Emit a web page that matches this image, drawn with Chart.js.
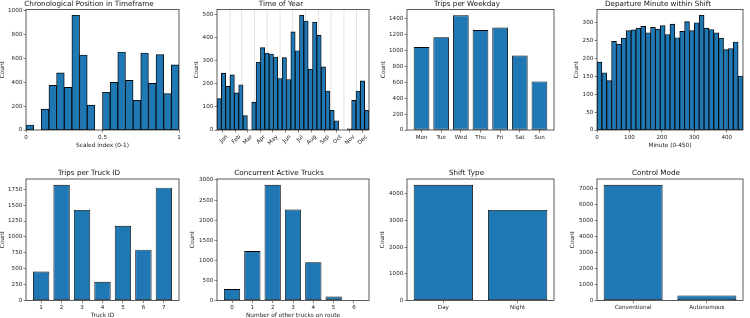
<!DOCTYPE html>
<html><head><meta charset="utf-8">
<script src="https://cdn.jsdelivr.net/npm/chart.js@4.4.0/dist/chart.umd.min.js"></script>
<style>
html,body{margin:0;padding:0;background:#fff;width:750px;height:318px;overflow:hidden;position:relative}
canvas{position:absolute}
</style></head><body>
<canvas id="c1"></canvas><canvas id="c2"></canvas><canvas id="c3"></canvas><canvas id="c4"></canvas>
<canvas id="c5"></canvas><canvas id="c6"></canvas><canvas id="c7"></canvas><canvas id="c8"></canvas>
<script>
// ---------- data ----------
const chronoRange = [0, 1];
const chronoCounts = [42, 0, 175, 374, 479, 357, 962, 629, 208, 0, 316, 399, 654, 416, 249, 645, 391, 632, 305, 546];
const chronoTicks = [0, 0.5, 1];
const chronoTickLabels = ['0', '0.5', '1'];

const yearRange = [1, 365];
const yearCounts = [135, 245, 188, 238, 160, 195, 62, 0, 120, 292, 355, 332, 328, 315, 222, 312, 218, 423, 342, 495, 470, 262, 465, 408, 272, 168, 85, 40, 0, 0, 5, 128, 168, 212, 85];
const monthNames = ['Jan','Feb','Mar','Apr','May','Jun','Jul','Aug','Sep','Oct','Nov','Dec'];
const monthMidDays = [15, 46, 74, 105, 135, 166, 196, 227, 258, 288, 319, 349];
const monthStartDays = [32, 60, 91, 121, 152, 182, 213, 244, 274, 305, 335];

const weekdays = ['Mon','Tue','Wed','Thu','Fri','Sat','Sun'];
const weekdayCounts = [1040, 1165, 1440, 1255, 1285, 935, 610];

const minuteRange = [0, 450];
const minuteCounts = [190, 160, 138, 248, 240, 257, 278, 280, 285, 290, 272, 287, 282, 292, 267, 296, 258, 276, 303, 278, 300, 321, 285, 281, 272, 257, 225, 228, 246, 151];
const minuteTicks = [0, 100, 200, 300, 400];

const truckIds = [1, 2, 3, 4, 5, 6, 7];
const truckCounts = [455, 1820, 1425, 295, 1175, 800, 1775];

const concurrentLevels = [0, 1, 2, 3, 4, 5, 6];
const concurrentCounts = [285, 1230, 2880, 2265, 955, 100, 10];

const shiftTypes = ['Day', 'Night'];
const shiftCounts = [4330, 3390];

const controlModes = ['Conventional', 'Autonomous'];
const controlCounts = [7250, 315];

// ---------- style ----------
const FONT = "'DejaVu Sans', sans-serif";
const TICK_SIZE = 5.6, LABEL_SIZE = 5.8, TITLE_SIZE = 7.2;
const LABEL_LH = LABEL_SIZE * 1.2, TITLE_LH = TITLE_SIZE * 1.2;
const BAR_COLOR = '#1f77b4', EDGE = '#050505';

const framePlugin = {
  id: 'frame',
  afterDatasetsDraw(chart) {
    const {ctx, chartArea: a} = chart;
    ctx.save(); ctx.strokeStyle = '#333'; ctx.lineWidth = 0.8;
    ctx.strokeRect(a.left, a.top, a.right - a.left, a.bottom - a.top);
    ctx.restore();
  }
};
const monthGridPlugin = {
  id: 'monthGrid',
  beforeDatasetsDraw(chart, args, opts) {
    if (!opts || !opts.days) return;
    const x = chart.scales.x, a = chart.chartArea, ctx = chart.ctx;
    ctx.save(); ctx.strokeStyle = 'rgba(0,0,0,0.14)'; ctx.lineWidth = 0.8;
    opts.days.forEach(d => {
      const px = x.getPixelForValue(d);
      ctx.beginPath(); ctx.moveTo(px, a.top); ctx.lineTo(px, a.bottom); ctx.stroke();
    });
    ctx.restore();
  }
};

function histPoints(range, counts) {
  const w = (range[1] - range[0]) / counts.length;
  return counts.map((c, i) => ({x: range[0] + (i + 0.5) * w, y: c}));
}
function barLimits(positions) {
  const span = positions[positions.length - 1] - positions[0] + 0.8;
  return [positions[0] - 0.4 - 0.05 * span, positions[positions.length - 1] + 0.4 + 0.05 * span];
}

function makeChart(id, geo, spec) {
  const cv = document.getElementById(id);
  const cl = Math.round(geo.countX - LABEL_LH / 2);
  const ct = geo.ct, ch = geo.ch;
  const cw = Math.round(geo.pr + 8 - cl);
  cv.width = cw; cv.height = ch;
  cv.style.left = cl + 'px'; cv.style.top = ct + 'px';
  cv.style.width = cw + 'px'; cv.style.height = ch + 'px';
  const yw = geo.pl - cl;
  const xh = spec.xLabel ? (geo.xLabelY + LABEL_LH / 2 - geo.pb) : 20;
  const titlePad = geo.pt - ct - TITLE_LH;
  const rightPad = cl + cw - geo.pr;
  const bottomPad = Math.max(0, ct + ch - geo.pb - xh);
  const yMax = Math.max(...spec.points.map(p => p.y)) * 1.05;
  const rot = spec.rotation || 0;
  new Chart(cv, {
    type: 'bar',
    data: {datasets: [{
      data: spec.points, backgroundColor: BAR_COLOR, borderColor: EDGE, borderWidth: 0.9,
      borderSkipped: false, barPercentage: spec.barPct, categoryPercentage: 1
    }]},
    options: {
      responsive: false, animation: false, devicePixelRatio: 1,
      layout: {padding: {left: 0, top: 0, right: rightPad, bottom: bottomPad}},
      plugins: {
        legend: {display: false}, tooltip: {enabled: false},
        title: {display: true, text: spec.title, color: '#111',
          font: {family: FONT, size: TITLE_SIZE, weight: 'normal', lineHeight: 1.2},
          padding: {top: 0, bottom: titlePad}},
        monthGrid: {days: spec.gridDays || null}
      },
      scales: {
        x: {
          type: 'linear', offset: false, min: spec.xMin, max: spec.xMax,
          grid: {offset: false, display: true, drawOnChartArea: false, drawTicks: true, tickLength: 2.5, color: '#333', lineWidth: 0.6},
          border: {display: false},
          ticks: {autoSkip: false, maxRotation: rot, minRotation: rot, labelOffset: spec.labelOffset || 0,
            padding: 1.2, color: '#222', font: {family: FONT, size: TICK_SIZE},
            callback: (v, i) => spec.xTickLabels[i]},
          afterBuildTicks: s => { s.ticks = spec.xTicks.map(v => ({value: v})); },
          afterFit: s => { s.height = xh; },
          title: {display: !!spec.xLabel, text: spec.xLabel || '', padding: 0, color: '#222',
            font: {family: FONT, size: LABEL_SIZE, lineHeight: 1.2}}
        },
        y: {
          type: 'linear', min: 0, max: yMax,
          grid: {display: true, drawOnChartArea: false, drawTicks: true, tickLength: 2.5, color: '#333', lineWidth: 0.6},
          border: {display: false},
          ticks: {padding: 1.2, color: '#222', font: {family: FONT, size: TICK_SIZE}, callback: v => String(v)},
          afterBuildTicks: s => {
            const t = [];
            for (let v = 0; v <= yMax + 1e-9; v += spec.yStep) t.push({value: v});
            s.ticks = t;
          },
          afterFit: s => { s.width = yw; },
          title: {display: true, text: 'Count', padding: 0, color: '#222',
            font: {family: FONT, size: LABEL_SIZE, lineHeight: 1.2}}
        }
      }
    },
    plugins: [framePlugin, monthGridPlugin]
  });
}

const ROW1 = {ct: 0, ch: 159, pt: 9.5, pb: 130, xLabelY: 145.7};
const ROW2 = {ct: 169, ch: 152, pt: 179, pb: 300.5, xLabelY: 315};
const COLS = [{pl: 26, pr: 179}, {pl: 217, pr: 369}, {pl: 407, pr: 554}, {pl: 597, pr: 743}];
const geo = (row, col, countX) => Object.assign({}, row, COLS[col], {countX});

makeChart('c1', geo(ROW1, 0, 2.7), {
  title: 'Chronological Position in Timeframe', points: histPoints(chronoRange, chronoCounts),
  barPct: 1, xMin: chronoRange[0], xMax: chronoRange[1], xTicks: chronoTicks, xTickLabels: chronoTickLabels,
  xLabel: 'Scaled index (0-1)', yStep: 200
});
makeChart('c2', geo(ROW1, 1, 196.7), {
  title: 'Time of Year', points: histPoints(yearRange, yearCounts),
  barPct: 1, xMin: yearRange[0], xMax: yearRange[1], xTicks: monthMidDays, xTickLabels: monthNames,
  rotation: 45, labelOffset: 4, gridDays: monthStartDays, yStep: 100
});
makeChart('c3', geo(ROW1, 2, 383.3), {
  title: 'Trips per Weekday', points: weekdayCounts.map((c, i) => ({x: i, y: c})),
  barPct: 0.8, xMin: barLimits(weekdays.map((d, i) => i))[0], xMax: barLimits(weekdays.map((d, i) => i))[1],
  xTicks: weekdays.map((d, i) => i), xTickLabels: weekdays, yStep: 200
});
makeChart('c4', geo(ROW1, 3, 576.7), {
  title: 'Departure Minute within Shift', points: histPoints(minuteRange, minuteCounts),
  barPct: 1, xMin: minuteRange[0], xMax: minuteRange[1], xTicks: minuteTicks, xTickLabels: minuteTicks.map(String),
  xLabel: 'Minute (0-450)', yStep: 50
});
makeChart('c5', geo(ROW2, 0, 2.7), {
  title: 'Trips per Truck ID', points: truckCounts.map((c, i) => ({x: truckIds[i], y: c})),
  barPct: 0.8, xMin: barLimits(truckIds)[0], xMax: barLimits(truckIds)[1],
  xTicks: truckIds, xTickLabels: truckIds.map(String), xLabel: 'Truck ID', yStep: 250
});
makeChart('c6', geo(ROW2, 1, 192.3), {
  title: 'Concurrent Active Trucks', points: concurrentCounts.map((c, i) => ({x: concurrentLevels[i], y: c})),
  barPct: 0.8, xMin: barLimits(concurrentLevels)[0], xMax: barLimits(concurrentLevels)[1],
  xTicks: concurrentLevels, xTickLabels: concurrentLevels.map(String), xLabel: 'Number of other trucks on route', yStep: 500
});
makeChart('c7', geo(ROW2, 2, 382.7), {
  title: 'Shift Type', points: shiftCounts.map((c, i) => ({x: i, y: c})),
  barPct: 0.8, xMin: barLimits([0, 1])[0], xMax: barLimits([0, 1])[1],
  xTicks: [0, 1], xTickLabels: shiftTypes, yStep: 1000
});
makeChart('c8', geo(ROW2, 3, 572.7), {
  title: 'Control Mode', points: controlCounts.map((c, i) => ({x: i, y: c})),
  barPct: 0.8, xMin: barLimits([0, 1])[0], xMax: barLimits([0, 1])[1],
  xTicks: [0, 1], xTickLabels: controlModes, yStep: 1000
});
</script>
</body></html>
